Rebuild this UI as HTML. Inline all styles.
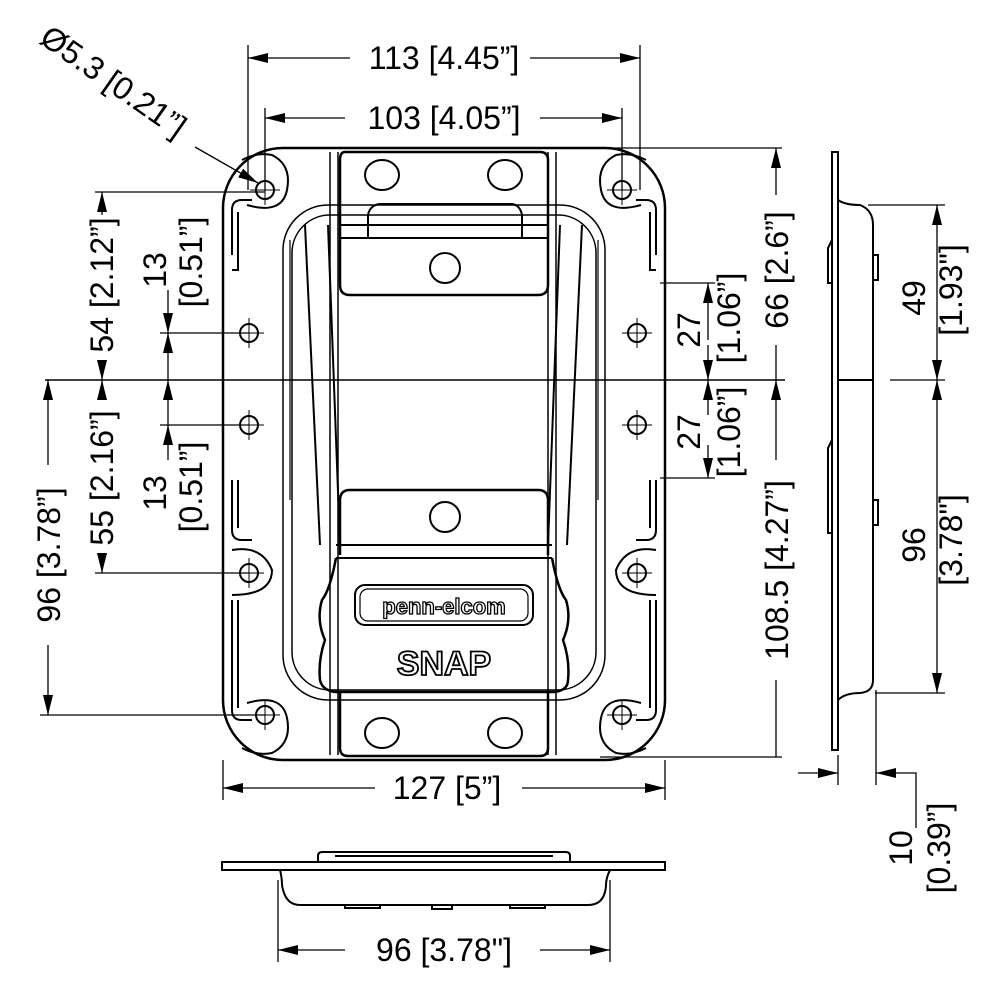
<!DOCTYPE html>
<html><head><meta charset="utf-8"><style>
html,body{margin:0;padding:0;background:#fff}
svg{display:block}
text{font-family:"Liberation Sans",sans-serif;font-size:32px;fill:#000}
</style></head><body>
<svg width="1000" height="1000" viewBox="0 0 1000 1000" xmlns="http://www.w3.org/2000/svg">
<defs>
<marker id="a" viewBox="0 0 20 10" refX="20" refY="5" markerWidth="20" markerHeight="10" markerUnits="userSpaceOnUse" orient="auto-start-reverse"><path d="M0,0 L20,5 L0,10 z" fill="#000"/></marker>
<g id="hole"><circle r="9" fill="none" stroke="#000" stroke-width="2"/><path d="M-15,0H15M0,-15V15" stroke="#000" stroke-width="1"/></g>
</defs>
<g fill="none" stroke="#000">
<rect x="223" y="148" width="442" height="612" rx="60" stroke-width="2.5"/>
<rect x="283" y="205" width="322" height="495" rx="45" stroke-width="1.5"/>
<rect x="292" y="215" width="304" height="475" rx="38" stroke-width="1.5"/>
<path d="M232,255V210q0-10 10-10h10M232,270h6V212" stroke-width="2"/>
<path d="M656,255V210q0-10-10-10h-10M656,270h-6V212" stroke-width="2"/>
<path d="M232,480v50q0,10 10,10h10M238,480v48" stroke-width="2"/>
<path d="M656,480v50q0,10-10,10h-10M650,480v48" stroke-width="2"/>
<path d="M232,600v110q0,10 10,10h10M238,600v108" stroke-width="2"/>
<path d="M656,600v110q0,10-10,10h-10M650,600v108" stroke-width="2"/>
<path d="M242,160q15-8 30-5q20 10 15 35q-5 25-40 15" stroke-width="2"/>
<path d="M646,160q-15-8-30-5q-20 10-15 35q5 25 40 15" stroke-width="2"/>
<path d="M242,748q15 8 30 5q20-10 15-35q-5-25-40-15" stroke-width="2"/>
<path d="M646,748q-15 8-30 5q-20-10-15-35q5-25 40-15" stroke-width="2"/>
<path d="M232,550q30-5 40 20q0 25-40 25" stroke-width="2"/>
<path d="M656,550q-30-5-40 20q0 25 40 25" stroke-width="2"/>
<path d="M330,152V755M338,152V755M548,152V755M556,152V755" stroke-width="1.5"/>
<path d="M345,152H540Q548,152 548,160V285Q548,295 538,295H350Q340,295 340,285V160Q340,152 345,152Z" stroke-width="2.5"/>
<ellipse cx="382" cy="175" rx="17" ry="15" stroke-width="2"/>
<ellipse cx="505" cy="175" rx="17" ry="15" stroke-width="2"/>
<circle cx="445" cy="268" r="15" stroke-width="2"/>
<path d="M340,225H548M340,238H548M368,238V215Q370,205 380,204H512Q520,205 522,215V238" stroke-width="2"/>
<path d="M305,225L320,545M328,225L340,545M582,225L567,545M560,225L548,545" stroke-width="2"/>
<path d="M290,240V500M598,240V500" stroke-width="1.2"/>
<path d="M340,555V500Q340,490 350,490H538Q548,490 548,500V555" stroke-width="2.5"/>
<circle cx="445" cy="517" r="15" stroke-width="2"/>
<path d="M336,545H552M336,558H552" stroke-width="2"/>
<path d="M336,558Q330,590 322,600Q316,620 325,640Q318,660 320,680Q322,690 335,692H555Q568,690 568,680Q570,660 563,640Q572,620 566,600Q558,590 552,558" stroke-width="2.5"/>
<rect x="355" y="585" width="178" height="40" rx="10" stroke-width="2"/>
<rect x="360" y="589" width="168" height="32" rx="8" stroke-width="1.2"/>
<path d="M340,692V748Q340,756 348,756H540Q548,756 548,748V692" stroke-width="2.5"/>
<ellipse cx="382" cy="733" rx="17" ry="15" stroke-width="2"/>
<ellipse cx="505" cy="733" rx="17" ry="15" stroke-width="2"/>
<path d="M45,380H785" stroke-width="1.5"/>
</g>
<use href="#hole" x="265" y="190"/><use href="#hole" x="622" y="190"/>
<use href="#hole" x="249" y="333"/><use href="#hole" x="637" y="333"/>
<use href="#hole" x="249" y="425"/><use href="#hole" x="637" y="425"/>
<use href="#hole" x="249" y="573"/><use href="#hole" x="637" y="573"/>
<use href="#hole" x="265" y="715"/><use href="#hole" x="622" y="715"/>
<text x="444" y="614" text-anchor="middle" style="font-size:22px;font-weight:bold;fill:#fff;stroke:#000;stroke-width:1.3">penn-elcom</text>
<text x="444" y="675" text-anchor="middle" style="font-size:34px;font-weight:bold;fill:#fff;stroke:#000;stroke-width:1.8">SNAP</text>

<g stroke="#000" stroke-width="1.3" fill="none">
<path d="M248,45V190M640,45V190"/>
<path d="M248,58H350M530,58H640" marker-start="url(#a)" marker-end="url(#a)"/>
<path d="M265,108V190M622,108V190"/>
<path d="M265,118H345M540,118H622" marker-start="url(#a)" marker-end="url(#a)"/>
<path d="M223,760V800M665,760V800"/>
<path d="M223,788H375M522,788H665" marker-start="url(#a)" marker-end="url(#a)"/>
<path d="M95,192H265M95,573H249M40,715H265M160,333H249M160,425H249"/>
<path d="M102,192V215" marker-start="url(#a)"/>
<path d="M102,380V360" marker-start="url(#a)"/>
<path d="M102,380V400" marker-start="url(#a)"/>
<path d="M102,573V553" marker-start="url(#a)"/>
<path d="M48,380V465M48,645V715" marker-start="url(#a)" marker-end="url(#a)"/>
<path d="M168,333V290" marker-start="url(#a)"/>
<path d="M168,380V333" marker-end="url(#a)"/>
<path d="M168,380V425" marker-start="url(#a)"/>
<path d="M168,425V460" marker-start="url(#a)"/>
<path d="M660,283H715M660,478H715M595,148H782M600,757H782"/>
<path d="M708,283V340" marker-start="url(#a)"/>
<path d="M708,380V345" marker-start="url(#a)"/>
<path d="M708,380V415" marker-start="url(#a)"/>
<path d="M708,478V445" marker-start="url(#a)"/>
<path d="M776,148V195M776,345V380" marker-start="url(#a)"/>
<path d="M776,380V460M776,680V757" marker-start="url(#a)"/>
<path d="M868,205H945M890,380H945M875,693H945"/>
<path d="M937,205V380" marker-start="url(#a)" marker-end="url(#a)"/>
<path d="M937,380V693" marker-start="url(#a)" marker-end="url(#a)"/>
<path d="M838,755V785M876,690V785"/>
<path d="M798,773H838" marker-end="url(#a)"/>
<path d="M916,828V773H876" marker-end="url(#a)"/>
<path d="M278,880V962M610,880V962"/>
<path d="M278,950H345M540,950H610" marker-start="url(#a)" marker-end="url(#a)"/>
<path d="M195,147L258,183" marker-end="url(#a)"/>
</g>

<g fill="none" stroke="#000" stroke-width="2">
<path d="M832,152V750H838V152Z"/>
<path d="M838,200Q845,205 860,205Q873,210 873,225V680Q873,692 860,693Q845,693 838,700"/>
<path d="M838,380H873"/>
<path d="M873,255h5v25h-5M873,500h5v25h-5"/>
<path d="M832,240l-4,8v35h4M832,440l-4,8v85h4"/>
</g>
<g fill="none" stroke="#000" stroke-width="2">
<path d="M222,862H665V870H222Z"/>
<path d="M280,870Q282,878 282,885Q285,905 300,905H588Q605,905 606,885Q606,878 610,870"/>
<path d="M318,862V856Q318,852 322,852H566Q570,852 570,856V862M335,856H553"/>
<path d="M345,905v3h35v-3M432,905v4h20v-4M510,905v3h35v-3"/>
</g>

<text x="444" y="69" text-anchor="middle">113 [4.45”]</text>
<text x="444" y="129" text-anchor="middle">103 [4.05”]</text>
<text x="447" y="799" text-anchor="middle">127 [5”]</text>
<text x="444" y="961" text-anchor="middle">96 [3.78"]</text>
<text transform="translate(38,42) rotate(35)">Ø5.3 [0.21”]</text>
<text transform="translate(113,285) rotate(-90)" text-anchor="middle">54 [2.12”]</text>
<text transform="translate(113,478) rotate(-90)" text-anchor="middle">55 [2.16”]</text>
<text transform="translate(60,555) rotate(-90)" text-anchor="middle">96 [3.78”]</text>
<text transform="translate(166,270) rotate(-90)" text-anchor="middle">13</text>
<text transform="translate(202,262) rotate(-90)" text-anchor="middle">[0.51”]</text>
<text transform="translate(166,493) rotate(-90)" text-anchor="middle">13</text>
<text transform="translate(202,487) rotate(-90)" text-anchor="middle">[0.51”]</text>
<text transform="translate(700,330) rotate(-90)" text-anchor="middle">27</text>
<text transform="translate(740,318) rotate(-90)" text-anchor="middle">[1.06”]</text>
<text transform="translate(700,432) rotate(-90)" text-anchor="middle">27</text>
<text transform="translate(740,432) rotate(-90)" text-anchor="middle">[1.06”]</text>
<text transform="translate(788,270) rotate(-90)" text-anchor="middle">66 [2.6”]</text>
<text transform="translate(788,570) rotate(-90)" text-anchor="middle">108.5 [4.27”]</text>
<text transform="translate(925,298) rotate(-90)" text-anchor="middle">49</text>
<text transform="translate(962,290) rotate(-90)" text-anchor="middle">[1.93"]</text>
<text transform="translate(925,545) rotate(-90)" text-anchor="middle">96</text>
<text transform="translate(962,540) rotate(-90)" text-anchor="middle">[3.78"]</text>
<text transform="translate(912,848) rotate(-90)" text-anchor="middle">10</text>
<text transform="translate(950,848) rotate(-90)" text-anchor="middle">[0.39”]</text>
</svg>
</body></html>
